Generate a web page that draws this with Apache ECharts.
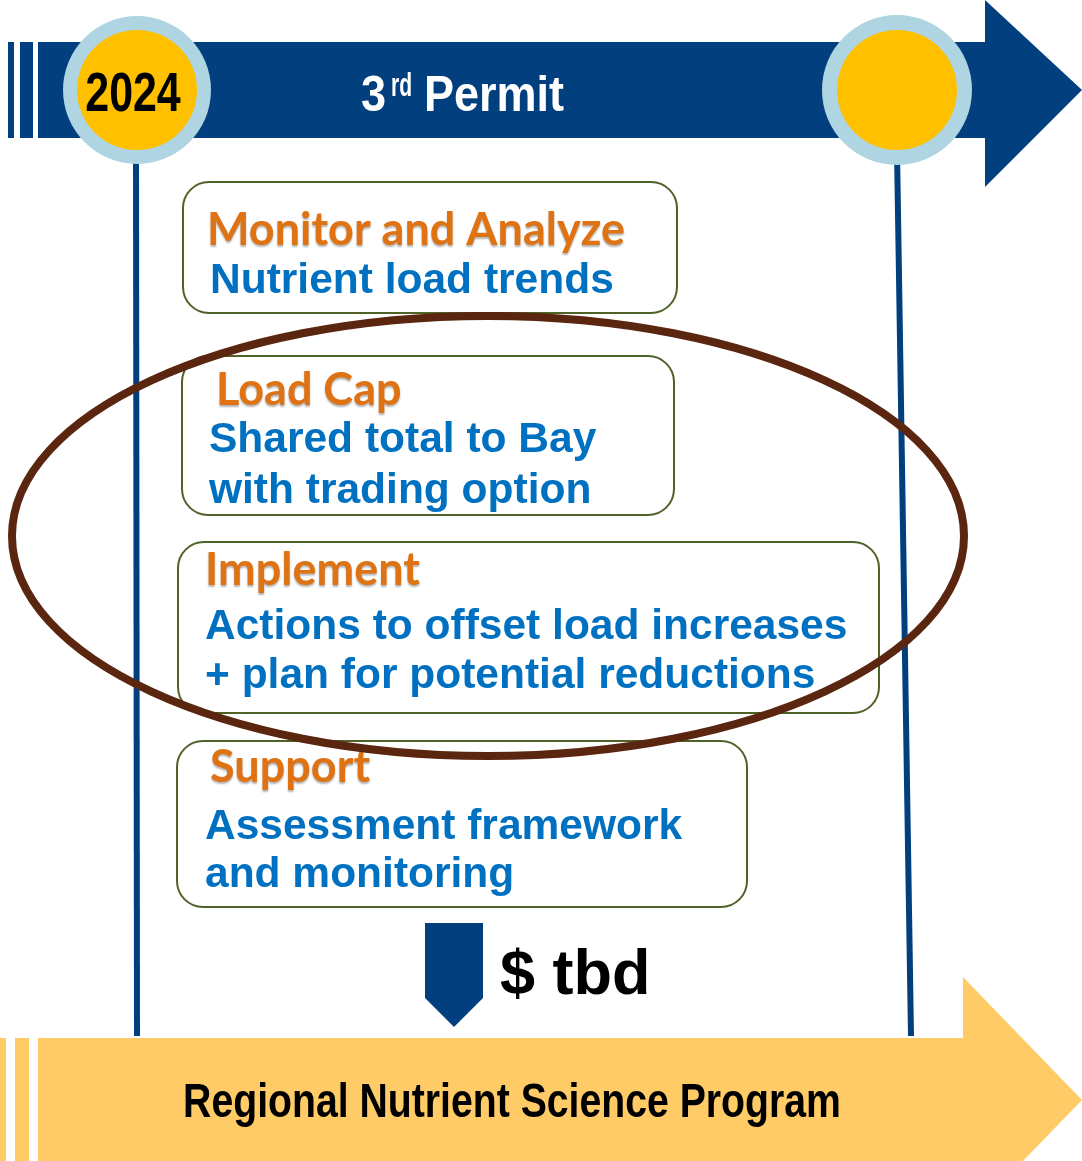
<!DOCTYPE html>
<html>
<head>
<meta charset="utf-8">
<script src="https://cdn.jsdelivr.net/npm/echarts@6/dist/echarts.min.js"></script>
<style>
html,body{margin:0;padding:0;background:#fff;}
#chart{width:1082px;height:1161px;}
</style>
</head>
<body>
<div id="chart"></div>
<script>
// ---- content ----
const yearLabel = '2024';
const permitNumber = '3';
const permitSuffix = 'rd';
const permitWord = 'Permit';
const boxTitles = ['Monitor and Analyze', 'Load Cap', 'Implement', 'Support'];
const boxLines = [
  ['Nutrient load trends'],
  ['Shared total to Bay', 'with trading option'],
  ['Actions to offset load increases', '+ plan for potential reductions'],
  ['Assessment framework', 'and monitoring']
];
const fundingLabel = '$ tbd';
const programLabel = 'Regional Nutrient Science Program';

// ---- layout (positions / styles) ----
const NAVY = '#023F7E';
const LIGHTBLUE = '#AED5E1';
const GOLD = '#FFC000';
const YELLOW = '#FECB67';
const BLUE = '#0070C0';
const ORANGE = '#DF7212';
const OLIVE = '#4F6228';
const BROWN = '#5B2610';
const boxRects = [
  [183, 182, 494, 131],
  [182, 356, 492, 159],
  [178, 542, 701, 171],
  [177, 741, 570, 166]
];
// baselines
const titlePos = [[207, 243], [216, 403], [205, 583], [210, 780]];
const linePos = [[[210, 293]], [[209, 452], [209, 503]], [[205, 639], [205, 688]], [[205, 839], [205, 887]]];
// convert a baseline to a middle-anchored y for a given font size
function mid(baseline, size) { return baseline - 0.28 * size; }

const chart = echarts.init(document.getElementById('chart'), null, {renderer: 'canvas'});
const g = [];

// top arrow band
g.push({type: 'rect', shape: {x: 8, y: 42, width: 6, height: 96}, style: {fill: NAVY}});
g.push({type: 'rect', shape: {x: 20, y: 42, width: 13, height: 96}, style: {fill: NAVY}});
g.push({type: 'rect', shape: {x: 38, y: 42, width: 950, height: 96}, style: {fill: NAVY}});
g.push({type: 'polygon', shape: {points: [[985, 0], [1082, 90], [985, 187]]}, style: {fill: NAVY}});

// bottom arrow band
g.push({type: 'rect', shape: {x: 0, y: 1038, width: 6, height: 123}, style: {fill: YELLOW}});
g.push({type: 'rect', shape: {x: 15, y: 1038, width: 14, height: 123}, style: {fill: YELLOW}});
g.push({type: 'rect', shape: {x: 38, y: 1038, width: 928, height: 123}, style: {fill: YELLOW}});
g.push({type: 'polygon', shape: {points: [[963, 977], [1082, 1100], [963, 1223]]}, style: {fill: YELLOW}});

// vertical timeline lines
g.push({type: 'line', shape: {x1: 136, y1: 150, x2: 137, y2: 1036}, style: {stroke: NAVY, lineWidth: 6}});
g.push({type: 'line', shape: {x1: 897, y1: 150, x2: 911, y2: 1036}, style: {stroke: NAVY, lineWidth: 6}});

// circles
g.push({type: 'circle', shape: {cx: 137, cy: 90, r: 74}, style: {fill: LIGHTBLUE}});
g.push({type: 'circle', shape: {cx: 137, cy: 90, r: 60}, style: {fill: GOLD}});
g.push({type: 'circle', shape: {cx: 897, cy: 90, r: 75}, style: {fill: LIGHTBLUE}});
g.push({type: 'circle', shape: {cx: 897, cy: 90, r: 60}, style: {fill: GOLD}});

// year / permit labels
g.push({type: 'text', x: 133, y: mid(111, 55), scaleX: 0.78, style: {text: yearLabel, fill: '#000', font: 'bold 55px "Liberation Sans", Arial, sans-serif', textAlign: 'center', textVerticalAlign: 'middle'}});
g.push({type: 'text', x: 361, y: mid(111, 50), scaleX: 0.9, style: {text: permitNumber, fill: '#fff', font: 'bold 50px "Liberation Sans", Arial, sans-serif', textAlign: 'left', textVerticalAlign: 'middle'}});
g.push({type: 'text', x: 391, y: mid(96, 34), scaleX: 0.62, style: {text: permitSuffix, fill: '#fff', font: 'bold 34px "Liberation Sans", Arial, sans-serif', textAlign: 'left', textVerticalAlign: 'middle'}});
g.push({type: 'text', x: 424, y: mid(111, 50), scaleX: 0.9, style: {text: permitWord, fill: '#fff', font: 'bold 50px "Liberation Sans", Arial, sans-serif', textAlign: 'left', textVerticalAlign: 'middle'}});

// boxes
boxTitles.forEach(function (t, i) {
  const r = boxRects[i];
  g.push({type: 'rect', shape: {x: r[0], y: r[1], width: r[2], height: r[3], r: 26}, style: {fill: '#fff', stroke: OLIVE, lineWidth: 2}});
  g.push({type: 'text', x: titlePos[i][0], y: mid(titlePos[i][1], 45), style: {
    text: t, fill: ORANGE, font: 'bold 45px Lato, "Open Sans", sans-serif',
    textAlign: 'left', textVerticalAlign: 'middle',
    textShadowColor: 'rgba(0,0,0,0.3)', textShadowBlur: 2, textShadowOffsetY: 2
  }});
  boxLines[i].forEach(function (l, j) {
    g.push({type: 'text', x: linePos[i][j][0], y: mid(linePos[i][j][1], 42.5), style: {
      text: l, fill: BLUE, font: 'bold 42.5px "Liberation Sans", Arial, sans-serif',
      textAlign: 'left', textVerticalAlign: 'middle'
    }});
  });
});

// highlight ellipse
g.push({type: 'ellipse', shape: {cx: 488, cy: 536, rx: 476, ry: 220}, style: {fill: 'none', stroke: BROWN, lineWidth: 8}});

// funding arrow + label
g.push({type: 'polygon', shape: {points: [[425, 923], [483, 923], [483, 998], [454, 1027], [425, 998]]}, style: {fill: NAVY}});
g.push({type: 'text', x: 500, y: mid(994, 63), style: {text: fundingLabel, fill: '#000', font: 'bold 63px "Liberation Sans", Arial, sans-serif', textAlign: 'left', textVerticalAlign: 'middle'}});

// program label
g.push({type: 'text', x: 512, y: mid(1117, 49), scaleX: 0.8, style: {text: programLabel, fill: '#000', font: 'bold 49px "Liberation Sans", Arial, sans-serif', textAlign: 'center', textVerticalAlign: 'middle'}});

chart.setOption({animation: false, graphic: {elements: g}});
</script>
</body>
</html>
